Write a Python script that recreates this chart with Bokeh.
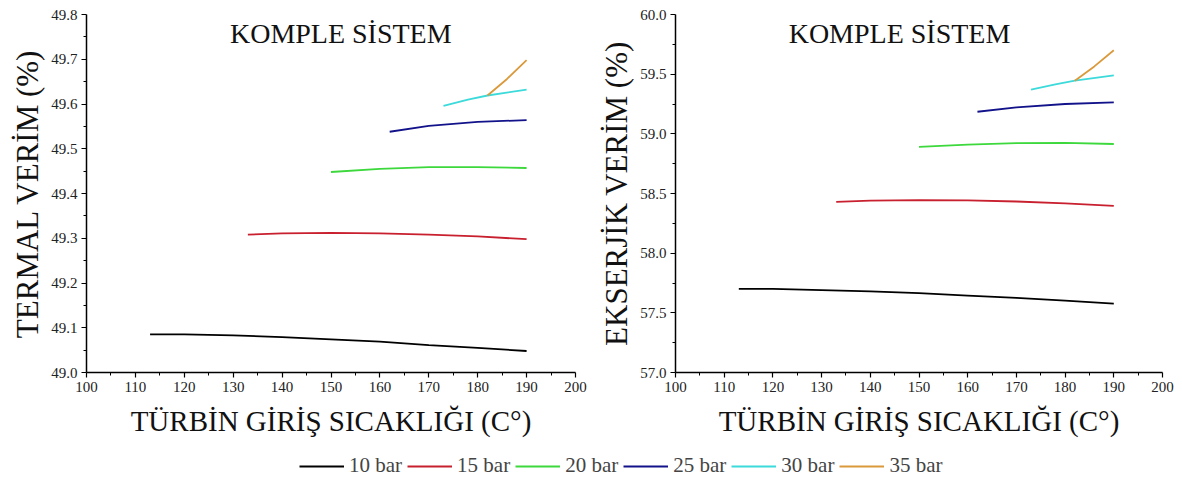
from bokeh.plotting import figure
from bokeh.models import Range1d, FixedTicker, PrintfTickFormatter, Legend, LegendItem, Label, Title
from bokeh.layouts import column, row
from bokeh.embed import file_html
from bokeh.resources import INLINE

# ---------------- data ----------------
series_names = ["10 bar", "15 bar", "20 bar", "25 bar", "30 bar", "35 bar"]
colors = ["#000000", "#C8202E", "#3CD83C", "#12128A", "#3CDADA", "#DA9A3C"]

# Thermal efficiency (left)
t10 = [113, 120, 130, 140, 150, 160, 170, 180, 190]
th10 = [49.085, 49.085, 49.083, 49.079, 49.074, 49.069, 49.061, 49.055, 49.048]
t15 = [133, 140, 150, 160, 170, 180, 190]
th15 = [49.308, 49.311, 49.312, 49.311, 49.308, 49.304, 49.298]
t20 = [150, 160, 170, 180, 190]
th20 = [49.448, 49.455, 49.459, 49.459, 49.457]
t25 = [162, 170, 180, 190]
th25 = [49.538, 49.551, 49.560, 49.564]
t30 = [173, 178, 182, 190]
th30 = [49.596, 49.610, 49.619, 49.632]
t35 = [182, 186, 190]
th35 = [49.619, 49.656, 49.698]

# Exergy efficiency (right)
e10 = [57.700, 57.700, 57.690, 57.680, 57.665, 57.645, 57.625, 57.603, 57.578]
e15 = [58.430, 58.440, 58.445, 58.442, 58.433, 58.417, 58.397]
e20 = [58.890, 58.910, 58.922, 58.924, 58.915]
e25 = [59.185, 59.222, 59.250, 59.263]
e30 = [59.370, 59.415, 59.445, 59.490]
e35 = [59.445, 59.565, 59.700]

temps = [t10, t15, t20, t25, t30, t35]
thermal = [th10, th15, th20, th25, th30, th35]
exergy = [e10, e15, e20, e25, e30, e35]

x_ticks = [100, 110, 120, 130, 140, 150, 160, 170, 180, 190, 200]
x_minor = [105, 115, 125, 135, 145, 155, 165, 175, 185, 195]
yl_ticks = [49.0, 49.1, 49.2, 49.3, 49.4, 49.5, 49.6, 49.7, 49.8]
yl_minor = [49.05, 49.15, 49.25, 49.35, 49.45, 49.55, 49.65, 49.75]
yr_ticks = [57.0, 57.5, 58.0, 58.5, 59.0, 59.5, 60.0]
yr_minor = [57.25, 57.75, 58.25, 58.75, 59.25, 59.75]

title_text = "KOMPLE SİSTEM"
x_label = "TÜRBİN GİRİŞ SICAKLIĞI (C°)"
yl_label = "TERMAL VERİM (%)"
yr_label = "EKSERJİK VERİM (%)"

FONT = "Liberation Serif"


def make_fig(width, bl, br, ylo, yhi, yticks, yminor, ylabel, ys, title_x, title_y):
    p = figure(width=width, height=440, output_backend="svg", toolbar_location=None,
               x_range=Range1d(100, 200), y_range=Range1d(ylo, yhi),
               min_border_left=bl, min_border_right=br, min_border_top=14, min_border_bottom=68)
    p.outline_line_color = None
    p.grid.visible = False
    p.background_fill_color = "white"
    p.border_fill_color = "white"
    for ax in (p.xaxis[0], p.yaxis[0]):
        ax.axis_line_color = "black"
        ax.axis_line_width = 1.5
        ax.major_tick_line_color = "black"
        ax.minor_tick_line_color = "black"
        ax.major_tick_line_width = 1.2
        ax.minor_tick_line_width = 1.0
        ax.major_tick_in = 0
        ax.major_tick_out = 5
        ax.minor_tick_in = 0
        ax.minor_tick_out = 3
        ax.major_label_text_font = FONT
        ax.major_label_text_font_size = "15px"
        ax.major_label_text_color = "#222222"
        ax.major_label_standoff = 4
        ax.axis_label_text_font = FONT
        ax.axis_label_text_font_style = "normal"
        ax.axis_label_text_color = "#111111"
    p.xaxis[0].ticker = FixedTicker(ticks=x_ticks, minor_ticks=x_minor)
    p.yaxis[0].ticker = FixedTicker(ticks=yticks, minor_ticks=yminor)
    p.yaxis[0].formatter = PrintfTickFormatter(format="%.1f")
    p.xaxis[0].axis_label = x_label
    p.xaxis[0].axis_label_text_font_size = "29px"
    p.xaxis[0].axis_label_standoff = 10

    ytitle = Title(text=ylabel, align="center", text_font=FONT,
                   text_font_size="31px", text_font_style="normal", text_color="#111111",
                   standoff=8)
    p.add_layout(ytitle, "left")

    for xs, yv, c in zip(temps, ys, colors):
        p.line(xs, yv, line_color=c, line_width=1.8)

    p.add_layout(Label(x=title_x, y=title_y, text=title_text, text_font=FONT,
                       text_font_size="28px", text_align="center", text_baseline="middle",
                       text_color="#111111"))
    return p


p1 = make_fig(590, 86, 15, 49.0, 49.8, yl_ticks, yl_minor, yl_label, thermal, 152, 49.7575)
p2 = make_fig(592, 85, 20, 57.0, 60.0, yr_ticks, yr_minor, yr_label, exergy, 146, 59.84)

lf = figure(width=1182, height=43, output_backend="svg", toolbar_location=None,
            x_range=Range1d(0, 1), y_range=Range1d(0, 1), min_border=0)
lf.axis.visible = False
lf.grid.visible = False
lf.outline_line_color = None
items = []
for name, c in zip(series_names, colors):
    # placeholder renderer kept outside the visible range; only its legend glyph shows
    r = lf.line([2, 3], [5, 5], line_color=c, line_width=1.8)
    items.append(LegendItem(label=name, renderers=[r]))
legend = Legend(items=items, orientation="horizontal", location=(299, 5),
                border_line_color=None, background_fill_alpha=0, padding=0, margin=0,
                spacing=5, glyph_width=45, glyph_height=16, label_standoff=5,
                label_text_font=FONT, label_text_font_size="21px", label_height=16)
lf.add_layout(legend, "center")

layout = column(row(p1, p2), lf)
open("out.html", "w").write(file_html(layout, INLINE))
